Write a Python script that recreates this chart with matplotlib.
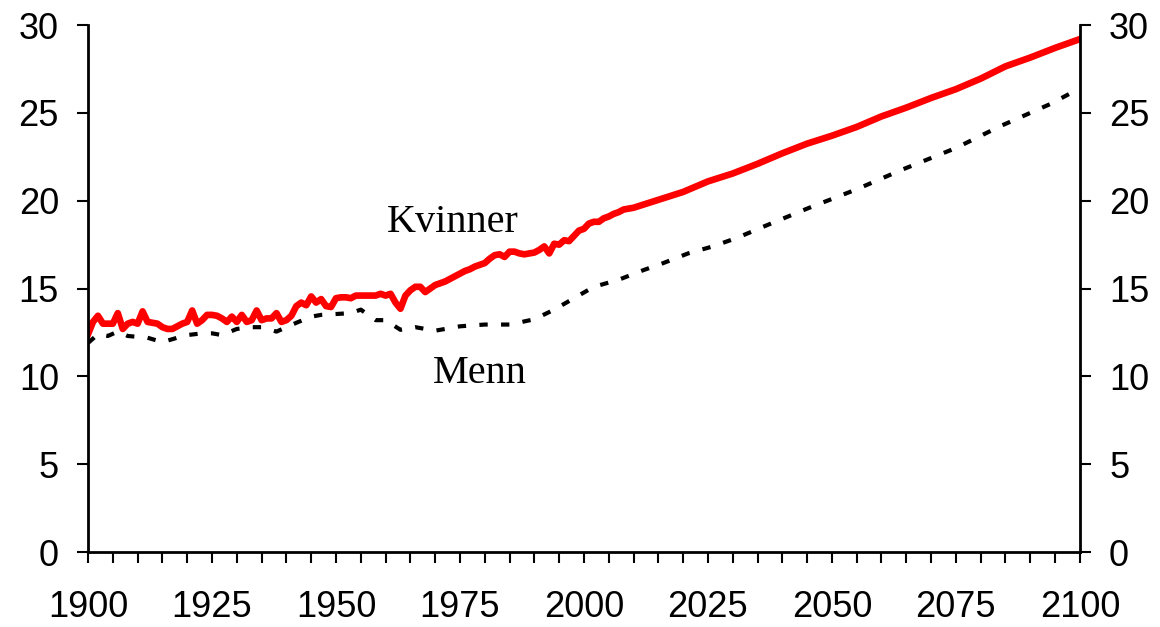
import matplotlib
matplotlib.use("Agg")
import matplotlib.pyplot as plt
from matplotlib.ticker import MultipleLocator

# --- Data: Kvinner (women), annual history + projection ---
kvinner_years = list(range(1900, 2011)) + [2015, 2020, 2025, 2030, 2035, 2040, 2045,
                                           2050, 2055, 2060, 2065, 2070, 2075, 2080,
                                           2085, 2090, 2095, 2100]
kvinner_values = [
    12.4, 13.1, 13.45, 13.0, 13.0, 13.0, 13.6, 12.7, 13.0, 13.1,
    13.0, 13.7, 13.1, 13.05, 13.0, 12.8, 12.7, 12.7, 12.85, 13.0,
    13.1, 13.75, 13.0, 13.2, 13.5, 13.5, 13.45, 13.3, 13.1, 13.4,
    13.1, 13.5, 13.1, 13.2, 13.75, 13.2, 13.3, 13.3, 13.6, 13.1,
    13.2, 13.45, 14.0, 14.2, 14.05, 14.55, 14.2, 14.4, 14.0, 13.95,
    14.45, 14.5, 14.5, 14.45, 14.6, 14.6, 14.6, 14.6, 14.6, 14.7,
    14.6, 14.7, 14.2, 13.85, 14.6, 14.9, 15.1, 15.1, 14.8, 15.0,
    15.2, 15.3, 15.4, 15.55, 15.7, 15.85, 16.0, 16.1, 16.25, 16.35,
    16.45, 16.7, 16.9, 16.95, 16.8, 17.1, 17.1, 17.0, 16.95, 17.0,
    17.05, 17.2, 17.4, 17.0, 17.55, 17.5, 17.75, 17.7, 18.0, 18.3,
    18.4, 18.7, 18.8, 18.8, 19.0, 19.1, 19.25, 19.35, 19.5, 19.55,
    19.6,
    20.05, 20.5, 21.1, 21.55, 22.1, 22.7, 23.25, 23.7, 24.2, 24.8,
    25.3, 25.85, 26.35, 26.95, 27.65, 28.15, 28.7, 29.2,
]

# --- Data: Menn (men) ---
menn_years = [1900, 1902, 1904, 1906, 1908, 1910, 1912, 1915, 1918, 1920,
              1923, 1925, 1927, 1930, 1933, 1935, 1938, 1940, 1942, 1945,
              1947, 1950, 1953, 1955, 1958, 1960, 1963, 1966, 1970, 1975,
              1980, 1985, 1990, 1994, 1998, 2002, 2007, 2012, 2016, 2021,
              2026, 2031, 2036, 2045, 2055, 2064, 2075, 2084, 2094, 2100]
menn_values = [11.9, 12.4, 12.3, 12.55, 12.3, 12.25, 12.2, 11.95, 12.2, 12.35,
               12.45, 12.45, 12.35, 12.7, 12.8, 12.8, 12.55, 12.8, 13.05, 13.4,
               13.5, 13.55, 13.6, 13.8, 13.2, 13.2, 12.65, 12.8, 12.6, 12.85,
               12.95, 12.95, 13.25, 13.8, 14.45, 15.1, 15.5, 16.05, 16.45, 17.0,
               17.4, 17.9, 18.5, 19.55, 20.65, 21.75, 23.0, 24.25, 25.5, 26.4]

# --- Figure ---
plt.rcParams["font.family"] = ["Liberation Sans", "DejaVu Sans"]
fig = plt.figure(figsize=(11.6, 6.27), dpi=100)
ax = fig.add_axes([0.0759, 0.1196, 0.855, 0.8404])

ax.plot(menn_years, menn_values, color="black", linewidth=3.0,
        linestyle=(0, (2.0, 3.2)), solid_capstyle="butt")
ax.plot(kvinner_years, kvinner_values, color="#ff0000", linewidth=4.8,
        solid_joinstyle="round")

# --- Axes ---
ax.set_xlim(1900, 2100)
ax.set_ylim(0, 30)
ax.xaxis.set_major_locator(MultipleLocator(25))
ax.xaxis.set_minor_locator(MultipleLocator(5))
ax.yaxis.set_major_locator(MultipleLocator(5))

ax.spines["top"].set_visible(False)
for s in ["left", "right", "bottom"]:
    ax.spines[s].set_linewidth(2)

ax.tick_params(axis="x", which="both", direction="out", length=8, width=1.5,
               labelsize=26, pad=19)
ax.tick_params(axis="y", which="major", direction="out", length=8, width=1.5,
               labelsize=26, pad=13, right=True, labelright=True)

# --- Labels on the lines ---
ax.text(1973.6, 18.2, "Kvinner", fontsize=29, family=["Liberation Serif"],
        ha="center", va="baseline")
ax.text(1979, 9.6, "Menn", fontsize=29, family=["Liberation Serif"],
        ha="center", va="baseline")

plt.savefig("out.png", dpi=100)
